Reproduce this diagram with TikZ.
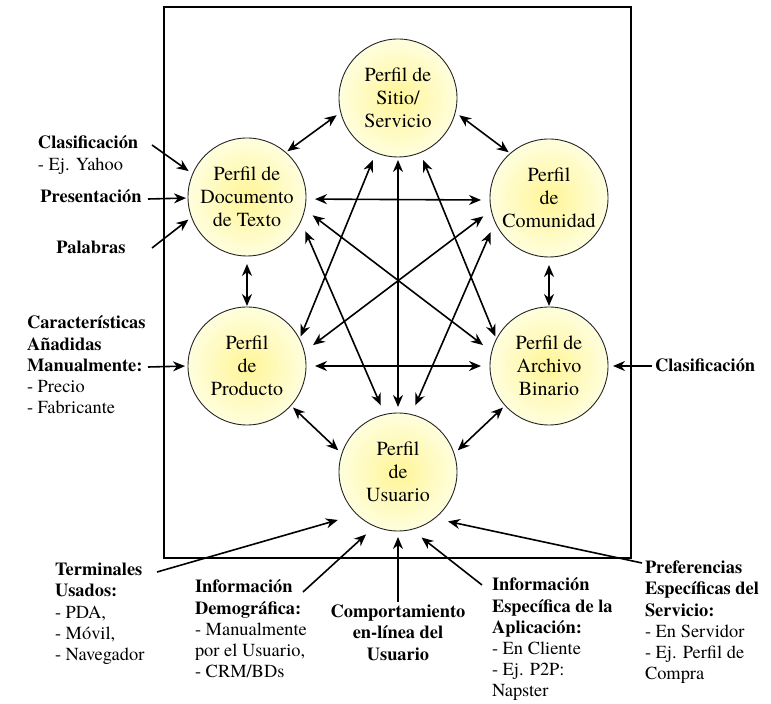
\documentclass[tikz,border=0pt]{standalone}
\usepackage{fontspec}
\setmainfont{texgyretermes}[Extension=.otf, UprightFont=*-regular, BoldFont=*-bold, ItalicFont=*-italic, BoldItalicFont=*-bolditalic]
\usetikzlibrary{arrows.meta}
\definecolor{cin}{RGB}{255,245,150}
\definecolor{cout}{RGB}{255,254,222}
\begin{document}
\begin{tikzpicture}[x=0.5pt,y=-0.5pt,
  prof/.style={circle, draw=black!85, line width=0.45pt, minimum size=59pt, inner sep=0pt, outer sep=0pt,
    inner color=cin, outer color=cout, align=center, font=\fontsize{10}{11.5}\selectfont},
  lab/.style={inner sep=0pt, outer sep=0pt, align=left, font=\fontsize{9.2}{10.6}\selectfont},
  tip/.tip={Stealth[length=6pt,width=5pt]},
  dbl/.style={tip-tip, line width=0.8pt},
  one/.style={-tip, line width=0.8pt},
]
\useasboundingbox (0,0) rectangle (771,704);
\fill[white] (0,0) rectangle (771,704);
\draw[line width=0.7pt] (164,7) rectangle (631,558);

% profile circles
\node[prof] (S) at (398,98)  {Perfil de\\Sitio/\\Servicio};
\node[prof] (D) at (247,197) {Perfil de\\Documento\\de Texto};
\node[prof] (C) at (549,198) {Perfil\\de\\Comunidad};
\node[prof] (P) at (247,366) {Perfil\\de\\Producto};
\node[prof] (B) at (549,366) {Perfil de\\Archivo\\Binario};
\node[prof] (U) at (398,472) {Perfil\\de\\Usuario};

% connections between profiles
\draw[dbl, shorten <=1pt, shorten >=2.5pt] (D.49) -- (S.194);
\draw[dbl, shorten <=1pt, shorten >=2.5pt] (C.131) -- (S.-14);
\draw[dbl, shorten <=4.5pt, shorten >=4.5pt] (D.-2) -- (C.182);
\draw[dbl, shorten <=5pt, shorten >=5.5pt] (D.-12) -- (B.166);
\draw[dbl, shorten <=5pt, shorten >=5.5pt] (C.192) -- (P.14);
\draw[dbl, shorten <=5.5pt, shorten >=5pt] (D.-24) -- (U.103);
\draw[dbl, shorten <=5.5pt, shorten >=5pt] (C.204) -- (U.77);
\draw[dbl, shorten <=1.5pt, shorten >=3pt] (S.-90) -- (U.90);
\draw[dbl, shorten <=4pt, shorten >=1.5pt] (S.248) -- (P.27);
\draw[dbl, shorten <=4pt, shorten >=1.5pt] (S.-68) -- (B.153);
\draw[dbl, shorten <=4pt, shorten >=0.5pt] (D.-90) -- (P.90);
\draw[dbl, shorten <=4pt, shorten >=0.5pt] (C.-90) -- (B.90);
\draw[dbl, shorten <=4.5pt, shorten >=4.5pt] (P.0) -- (B.180);
\draw[dbl, shorten <=1.5pt, shorten >=2.5pt] (P.-42) -- (U.162);
\draw[dbl, shorten <=1.5pt, shorten >=2.5pt] (B.222) -- (U.18);

% labels
\node[lab, anchor=north west] (lClas) at (38,136) {\textbf{Clasificación}\\- Ej. Yahoo};
\node[lab, anchor=base] (lPres) at (91,203) {\textbf{Presentación}};
\node[lab, anchor=base] (lPal) at (91,254) {\textbf{Palabras}};
\node[lab, anchor=north west] (lCar) at (27,316) {\textbf{Características}\\\textbf{Añadidas}\\\textbf{Manualmente:}\\- Precio\\- Fabricante};
\node[lab, anchor=base west] (lClasR) at (655,372) {\textbf{Clasificación}};
\node[lab, anchor=north west] (lTerm) at (55,563) {\textbf{Terminales}\\\textbf{Usados:}\\- PDA,\\- Móvil,\\- Navegador};
\node[lab, anchor=north west] (lDemo) at (195,580) {\textbf{Información}\\\textbf{Demográfica:}\\- Manualmente\\por el Usuario,\\- CRM/BDs};
\node[lab, anchor=north, align=center] (lComp) at (398,605) {\textbf{Comportamiento}\\\textbf{en-línea del}\\\textbf{Usuario}};
\node[lab, anchor=north west] (lApl) at (492,578) {\textbf{Información}\\\textbf{Específica de la}\\\textbf{Aplicación:}\\- En Cliente\\- Ej. P2P:\\Napster};
\node[lab, anchor=north west] (lPref) at (645,561) {\textbf{Preferencias}\\\textbf{Específicas del}\\\textbf{Servicio:}\\- En Servidor\\- Ej. Perfil de\\Compra};

% label arrow tails
\coordinate (tClas) at (152,145);
\coordinate (tPres) at (148,199);
\coordinate (tPal) at (152,248);
\coordinate (tCar) at (148,367);
\coordinate (tClasR) at (652,366);
\coordinate (tTerm) at (157,572);
\coordinate (tDemo) at (303,592);
\coordinate (tComp) at (398,602);
\coordinate (tApl) at (482,585);
\coordinate (tPref) at (642,563);

\draw[one, shorten >=2.5pt] (tClas) -- (D.157);
\draw[one, shorten >=1pt] (tPres) -- (D.181);
\draw[one, shorten >=2pt] (tPal) -- (D.200);
\draw[one, shorten >=1.5pt] (tCar) -- (P.180);
\draw[one, shorten >=2.5pt] (tClasR) -- (B.0);
\draw[one, shorten >=10pt] (tTerm) -- (U.226);
\draw[one, shorten >=6pt] (tDemo) -- (U.247);
\draw[one, shorten >=3pt] (tComp) -- (U.-90);
\draw[one, shorten >=6.5pt] (tApl) -- (U.-77);
\draw[one, shorten >=7pt] (tPref) -- (U.-52);
\end{tikzpicture}
\end{document}
